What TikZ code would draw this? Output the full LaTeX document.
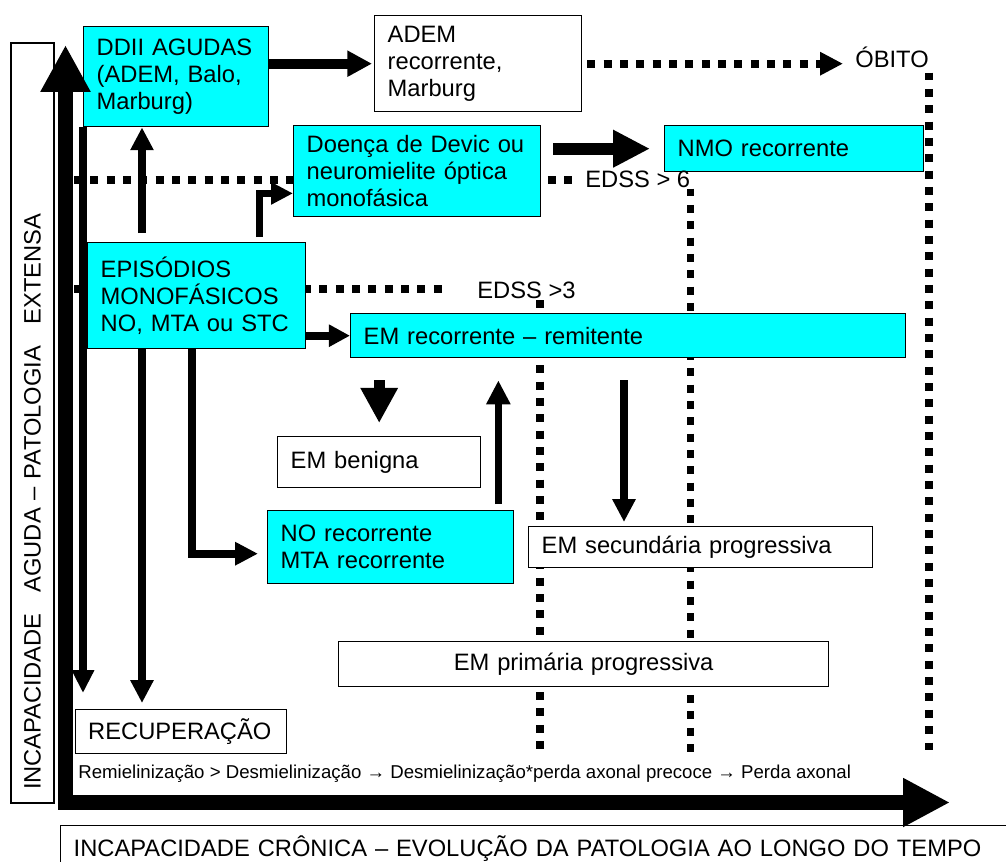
\documentclass[tikz,border=0pt]{standalone}
\usepackage{fontspec}
\setmainfont{Liberation Sans}
\usetikzlibrary{arrows.meta,backgrounds}
\definecolor{ciano}{RGB}{0,255,255}

\begin{document}
\begin{tikzpicture}[x=0.02cm,y=-0.02cm,
  font=\fontsize{13.5}{15.3}\selectfont,
  caixa/.style={draw,line width=0.8pt,anchor=north west,align=left,inner xsep=0.26cm,inner ysep=0pt},
  azul/.style={caixa,fill=ciano},
  branca/.style={caixa,fill=white},
  rotulo/.style={anchor=base west,inner sep=0pt},
  pontos/.style={line width=4.5pt,dash pattern=on 4.5pt off 4.8pt},
  seta/.style={line width=4pt,-{Triangle[length=13pt,width=12.5pt]}},
  eixo/.style={line width=8.5pt,{Triangle[length=26.7pt,width=26.7pt]}-{Triangle[length=26.7pt,width=26pt]}}]
\useasboundingbox (0,0) rectangle (1006,861);
\clip (0,0) rectangle (1006,861);

% caixas
\node[azul,text width=3.18cm,minimum height=2cm] (ddii) at (83,26) {DDII AGUDAS\\(ADEM, Balo,\\Marburg)};
\node[branca,text width=3.62cm,minimum height=1.92cm] (ademrec) at (374,15) {ADEM\\recorrente,\\Marburg};
\node[azul,text width=4.42cm,minimum height=1.82cm] (devic) at (293,125) {Doença de Devic ou\\neuromielite óptica\\monofásica};
\node[azul,text width=4.66cm,minimum height=0.92cm] (nmo) at (664,125) {NMO recorrente};
\node[azul,text width=3.84cm,minimum height=2.12cm] (episodios) at (87,242) {EPISÓDIOS\\MONOFÁSICOS\\NO, MTA ou STC};
\node[azul,text width=10.58cm,minimum height=0.88cm] (emrr) at (350,313) {EM recorrente – remitente};
\node[branca,text width=3.54cm,minimum height=1.02cm] (benigna) at (277,436) {EM benigna};
\node[azul,text width=4.40cm,minimum height=1.46cm] (norec) at (267,510) {NO recorrente\\MTA recorrente};
\node[branca,text width=6.36cm,minimum height=0.82cm] (emsp) at (528,526) {EM secundária progressiva};
\node[branca,text width=9.28cm,minimum height=0.90cm,align=center] (empp) at (338,641) {EM primária progressiva};
\node[branca,text width=3.72cm,minimum height=0.88cm,inner xsep=0.25cm] (recup) at (75,709) {RECUPERAÇÃO};

\node[rotulo] (obito) at (855,68) {ÓBITO};
\node[rotulo] (edssseis) at (585,188) {EDSS > 6};
\node[rotulo] (edsstres) at (477,298) {EDSS >3};
\node[rotulo,font=\fontsize{10.6}{12}\selectfont] (processo) at (78,778) {Remielinização > Desmielinização → Desmielinização*perda axonal precoce → Perda axonal};

% eixos
\node[draw,line width=0.8pt,rotate=90,text width=14.68cm,align=left,inner xsep=0.26cm,minimum height=0.86cm] (eixoy) at (32.5,423) {INCAPACIDADE\hspace{0.9em}AGUDA – PATOLOGIA\hspace{0.9em}EXTENSA};
\node[caixa,text width=18.5cm,minimum height=0.9cm] (eixox) at (60,825) {INCAPACIDADE CRÔNICA – EVOLUÇÃO DA PATOLOGIA AO LONGO DO TEMPO};

\coordinate (topo) at (65.5,45);
\coordinate (origem) at (65.5,802.5);
\coordinate (fim) at (950,802.5);
\draw[eixo] (topo) -- (origem) -- (fim);

% limiares
\coordinate (chao) at (0,752);
\coordinate (nivel6) at (74,180);
\coordinate (nivel3) at (58,289);
\coordinate (marco3) at (540,300);
\begin{scope}[on background layer]
\fill[white] (0,0) rectangle (1006,861);
\draw[pontos,shorten >=0.14cm] (nivel6) -- (nivel6 -| edssseis.west);
\draw[pontos,shorten >=0.56cm] (nivel3) -- (nivel3 -| edsstres.west);
\draw[pontos] (marco3) -- (marco3 |- chao);
\draw[pontos] (edssseis.south east) -- (edssseis.south east |- chao);
\draw[pontos] ([yshift=-0.08cm]obito.south east) -- (obito.south east |- chao);
\end{scope}

% setas
\coordinate (e1) at ([xshift=1.1cm]episodios.north west);
\coordinate (e2) at ([xshift=1.1cm]episodios.south west);
\coordinate (e3) at ([xshift=-0.94cm]episodios.north east);
\coordinate (e4) at ([xshift=2.1cm]episodios.south west);
\coordinate (n1) at ([xshift=-0.32cm]norec.north east);
\coordinate (s1) at ([xshift=1.92cm]emsp.north west);

\draw[seta,-{Triangle[length=13pt,width=12pt]},shorten >=0.32cm] (ddii.south west) -- (ddii.south west |- recup.north);
\draw[seta,shorten <=0.18cm] (e1) -- (e1 |- ddii.south);
\draw[seta,shorten >=0.12cm] (e2) -- (e2 |- recup.north);
\draw[seta,-{Triangle[length=12.5pt,width=12pt]},shorten <=0.1cm] (e3) |- ([yshift=0.48cm]devic.south west);
\draw[seta,line width=4.5pt,-{Triangle[length=12pt,width=12pt]}] (episodios.east |- emrr.west) -- (emrr.west);
\draw[seta,line width=4.5pt,shorten >=0.18cm] (e4) |- ([yshift=-0.13cm]norec.west);
\draw[line width=6.3pt,-{Triangle[length=20pt,width=20pt]},shorten <=0.44cm,shorten >=0.26cm] (benigna.north |- emrr.south) -- (benigna.north);
\draw[seta,-{Triangle[length=13.6pt,width=13pt]},shorten <=0.12cm,shorten >=0.44cm] (n1) -- (n1 |- emrr.south);
\draw[seta,shorten <=0.44cm,shorten >=0.08cm] (s1 |- emrr.south) -- (s1);
\draw[line width=5.7pt,-{Triangle[length=14pt,width=14pt]},shorten >=0.04cm] (ddii.east |- ademrec.west) -- (ademrec.west);
\draw[line width=6.8pt,-{Triangle[length=21pt,width=20pt]},shorten <=0.24cm,shorten >=0.28cm] (devic.east |- nmo.west) -- (nmo.west);
\draw[pontos,-{Triangle[length=13pt,width=12.5pt]},shorten <=0.1cm,shorten >=0.24cm] (ademrec.east) -- (ademrec.east -| obito.west);
\end{tikzpicture}
\end{document}
